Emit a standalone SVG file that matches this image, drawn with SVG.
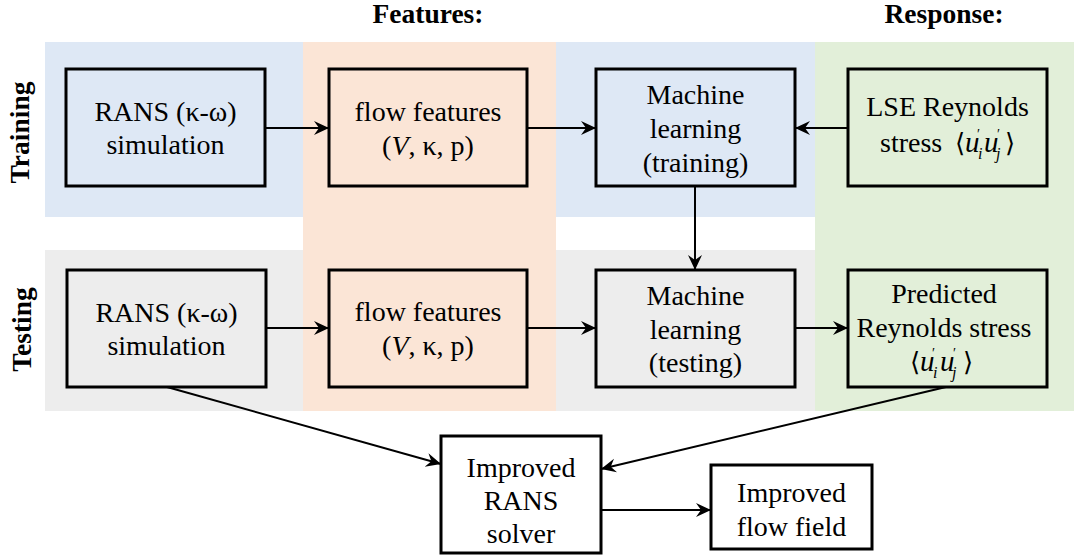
<svg xmlns="http://www.w3.org/2000/svg" width="1076" height="556" viewBox="0 0 1076 556">
  <style>
    .t { font-family: "Liberation Serif", "Times New Roman", serif; font-size: 28px; font-weight: normal; fill: #000; }
    .c { text-anchor: middle; }
    .h { font-family: "Liberation Serif", "Times New Roman", serif; font-size: 27.5px; font-weight: bold; fill: #000; text-anchor: middle; }
    .m { font-family: "Liberation Serif", "Times New Roman", serif; font-size: 29px; font-style: italic; }
    .sup { font-family: "Liberation Serif", "DejaVu Serif", serif; font-size: 14px; font-style: normal; }
    .sub { font-family: "Liberation Serif", serif; font-size: 16px; font-style: italic; }
    .br { font-family: "DejaVu Serif", "Liberation Serif", serif; font-size: 26px; font-style: normal; }
    .box { stroke: #000; stroke-width: 3; }
    .edge { fill: none; stroke: #000; stroke-width: 2; }
  </style>
  <defs>
    <marker id="arr" markerUnits="userSpaceOnUse" markerWidth="16" markerHeight="16" viewBox="-15 -8 16 16" refX="0" refY="0" orient="auto">
      <path d="M0,0 L-15,-7 L-10,0 L-15,7 Z" fill="#000"/>
    </marker>
  </defs>

  <!-- background bands -->
  <g id="bands">
    <rect x="45" y="42" width="258" height="175" fill="#dee8f5"/>
    <rect x="556" y="42" width="259" height="175" fill="#dee8f5"/>
    <rect x="45" y="250" width="258" height="161" fill="#ededed"/>
    <rect x="556" y="250" width="259" height="161" fill="#ededed"/>
    <rect x="303" y="42" width="253" height="369" fill="#fbe5d6"/>
    <rect x="815" y="42" width="259" height="369" fill="#e2efd9"/>
  </g>

  <!-- headers and row labels -->
  <g id="labels">
    <text class="h" x="428" y="23">Features:</text>
    <text class="h" x="944" y="23">Response:</text>
    <text class="h" x="28.5" y="132.5" transform="rotate(-90 28.5 132.5)">Training</text>
    <text class="h" x="31" y="329.5" transform="rotate(-90 31 329.5)">Testing</text>
  </g>

  <!-- connectors -->
  <g id="connectors">
    <line class="edge" x1="265" y1="128" x2="329" y2="128" marker-end="url(#arr)"/>
    <line class="edge" x1="527" y1="128" x2="596" y2="128" marker-end="url(#arr)"/>
    <line class="edge" x1="848" y1="128" x2="795" y2="128" marker-end="url(#arr)"/>
    <line class="edge" x1="695" y1="186" x2="695" y2="270" marker-end="url(#arr)"/>
    <line class="edge" x1="266" y1="328" x2="329" y2="328" marker-end="url(#arr)"/>
    <line class="edge" x1="527" y1="328" x2="596" y2="328" marker-end="url(#arr)"/>
    <line class="edge" x1="795" y1="328" x2="848" y2="328" marker-end="url(#arr)"/>
    <line class="edge" x1="167" y1="387" x2="441" y2="464" marker-end="url(#arr)"/>
    <line class="edge" x1="946" y1="387" x2="601" y2="469" marker-end="url(#arr)"/>
    <line class="edge" x1="601" y1="510" x2="711" y2="510" marker-end="url(#arr)"/>
  </g>

  <!-- training row -->
  <g id="rans-train">
    <rect class="box" x="66" y="69" width="199" height="117" fill="#dee8f5"/>
    <text class="t c" x="165.5" y="121">RANS (κ-ω)</text>
    <text class="t c" x="165.5" y="154">simulation</text>
  </g>
  <g id="features-train">
    <rect class="box" x="329" y="69" width="198" height="117" fill="#fbe5d6"/>
    <text class="t c" x="428" y="121">flow features</text>
    <text class="t c" x="428" y="155">(<tspan font-style="italic">V</tspan>, κ, p)</text>
  </g>
  <g id="ml-train">
    <rect class="box" x="596" y="69" width="199" height="117" fill="#dee8f5"/>
    <text class="t c" x="695.5" y="104">Machine</text>
    <text class="t c" x="695.5" y="138">learning</text>
    <text class="t c" x="695.5" y="172">(training)</text>
  </g>
  <g id="lse">
    <rect class="box" x="848" y="69" width="199" height="117" fill="#e2efd9"/>
    <text class="t c" x="947.5" y="116">LSE Reynolds</text>
    <text class="t" y="152"><tspan x="880">stress</tspan><tspan class="br" x="955">⟨</tspan><tspan class="m" x="965">u</tspan><tspan class="sup" x="977" y="139">′</tspan><tspan class="sub" x="978" y="159">i</tspan><tspan class="m" x="984" y="152">u</tspan><tspan class="sup" x="997" y="139">′</tspan><tspan class="sub" x="996" y="159">j</tspan><tspan class="br" x="1005" y="152">⟩</tspan></text>
  </g>

  <!-- testing row -->
  <g id="rans-test">
    <rect class="box" x="67" y="270" width="199" height="117" fill="#ededed"/>
    <text class="t c" x="166.5" y="322">RANS (κ-ω)</text>
    <text class="t c" x="166.5" y="355">simulation</text>
  </g>
  <g id="features-test">
    <rect class="box" x="329" y="270" width="198" height="117" fill="#fbe5d6"/>
    <text class="t c" x="428" y="321">flow features</text>
    <text class="t c" x="428" y="355">(<tspan font-style="italic">V</tspan>, κ, p)</text>
  </g>
  <g id="ml-test">
    <rect class="box" x="596" y="270" width="199" height="117" fill="#ededed"/>
    <text class="t c" x="695.5" y="305">Machine</text>
    <text class="t c" x="695.5" y="339">learning</text>
    <text class="t c" x="695.5" y="372">(testing)</text>
  </g>
  <g id="predicted">
    <rect class="box" x="848" y="270" width="199" height="117" fill="#e2efd9"/>
    <text class="t c" x="944" y="303">Predicted</text>
    <text class="t c" x="944" y="337">Reynolds stress</text>
    <text class="t" y="371"><tspan class="br" x="910">⟨</tspan><tspan class="m" x="920">u</tspan><tspan class="sup" x="932" y="358">′</tspan><tspan class="sub" x="933" y="378">i</tspan><tspan class="m" x="940" y="371">u</tspan><tspan class="sup" x="953" y="358">′</tspan><tspan class="sub" x="952" y="378">j</tspan><tspan class="br" x="963" y="371">⟩</tspan></text>
  </g>

  <!-- outputs -->
  <g id="solver">
    <rect class="box" x="441" y="436" width="160" height="117" fill="#fff"/>
    <text class="t c" x="521" y="477">Improved</text>
    <text class="t c" x="521" y="510">RANS</text>
    <text class="t c" x="521" y="543">solver</text>
  </g>
  <g id="flow-field">
    <rect class="box" x="711" y="465" width="161" height="84" fill="#fff"/>
    <text class="t c" x="791.5" y="502">Improved</text>
    <text class="t c" x="791.5" y="536">flow field</text>
  </g>
</svg>
